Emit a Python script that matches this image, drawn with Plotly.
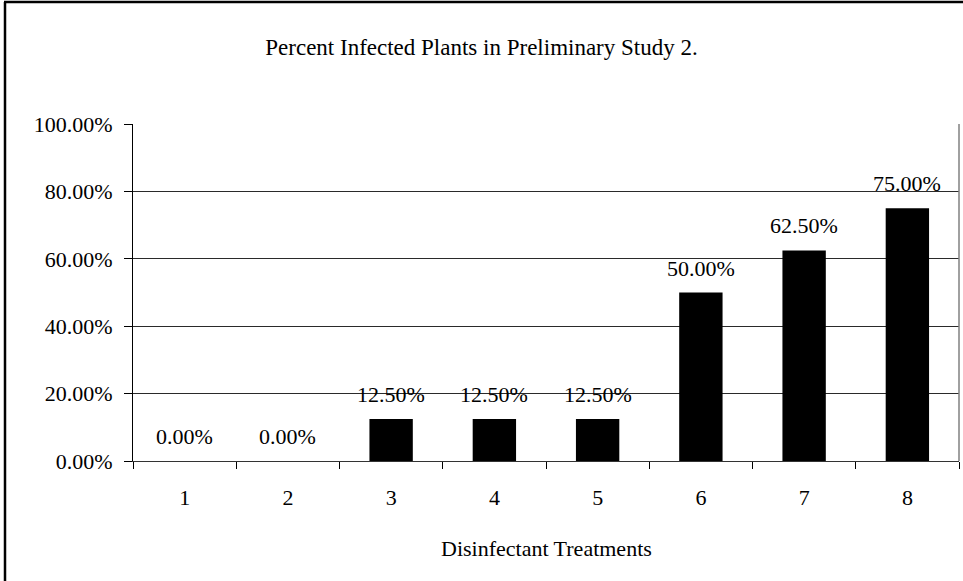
import plotly.graph_objects as go

# Chart data
treatments = ["1", "2", "3", "4", "5", "6", "7", "8"]
infected_pct = [0.0, 0.0, 0.125, 0.125, 0.125, 0.50, 0.625, 0.75]
y_ticks = [0.0, 0.2, 0.4, 0.6, 0.8, 1.0]

W, H = 963, 581
ML, MR, MT, MB = 133, 4, 124, 120
FONT = "Liberation Serif"

fig = go.Figure()
fig.add_trace(go.Bar(
    x=treatments,
    y=infected_pct,
    width=0.42,
    marker=dict(color="black", line=dict(width=0)),
    hoverinfo="skip",
))

# Value labels above each bar (category positions by index)
for idx, val in enumerate(infected_pct):
    fig.add_annotation(
        x=idx, y=val, xref="x", yref="y",
        text=f"{val:.2%}", showarrow=False,
        yanchor="bottom", yshift=10,
        font=dict(family=FONT, size=22, color="black"),
    )

pw = W - ML - MR
ph = H - MT - MB


def px_x(px):
    return (px - ML) / pw


def px_y(py):
    return (H - MB - py) / ph


# Axis title below the category labels
fig.add_annotation(
    x=0.5, y=px_y(548), xref="paper", yref="paper",
    text="Disinfectant Treatments", showarrow=False,
    xanchor="center", yanchor="middle",
    font=dict(family=FONT, size=22, color="black"),
)

# Outer chart frame (left and top edges) and plot-area right edge
fig.add_shape(type="line", xref="paper", yref="paper",
              x0=px_x(5), x1=px_x(5), y0=px_y(2), y1=px_y(H + 5),
              line=dict(color="black", width=2.5))
fig.add_shape(type="line", xref="paper", yref="paper",
              x0=px_x(4), x1=px_x(W + 5), y0=px_y(2), y1=px_y(2),
              line=dict(color="black", width=2.5))
fig.add_shape(type="line", xref="paper", yref="paper",
              x0=1, x1=1, y0=0, y1=1,
              line=dict(color="#808080", width=1.5))

fig.update_layout(
    width=W, height=H,
    margin=dict(l=ML, r=MR, t=MT, b=MB, pad=0),
    paper_bgcolor="white",
    plot_bgcolor="white",
    showlegend=False,
    font=dict(family=FONT, color="black"),
    title=dict(
        text="Percent Infected Plants in Preliminary Study 2.",
        x=0.5, xref="container", xanchor="center",
        y=1 - 47 / H, yref="container", yanchor="middle",
        font=dict(family=FONT, size=23, color="black"),
    ),
    xaxis=dict(
        type="category",
        range=[-0.5, len(treatments) - 0.5],
        tickson="boundaries",
        ticks="outside", ticklen=7, tickwidth=1, tickcolor="black",
        showline=True, linecolor="#333333", linewidth=1,
        showgrid=False,
        tickfont=dict(family=FONT, size=22, color="black"),
        ticklabelstandoff=17,
        automargin=False,
        fixedrange=True,
    ),
    yaxis=dict(
        range=[0, 1],
        tickvals=y_ticks,
        tickformat=".2%",
        ticks="outside", ticklen=8, tickwidth=1, tickcolor="black",
        showline=True, linecolor="black", linewidth=1,
        showgrid=True, gridcolor="#2a2a2a", gridwidth=1,
        zeroline=False,
        tickfont=dict(family=FONT, size=22, color="black"),
        ticklabelstandoff=7,
        automargin=False,
        fixedrange=True,
    ),
)

fig.write_html("out.html")
